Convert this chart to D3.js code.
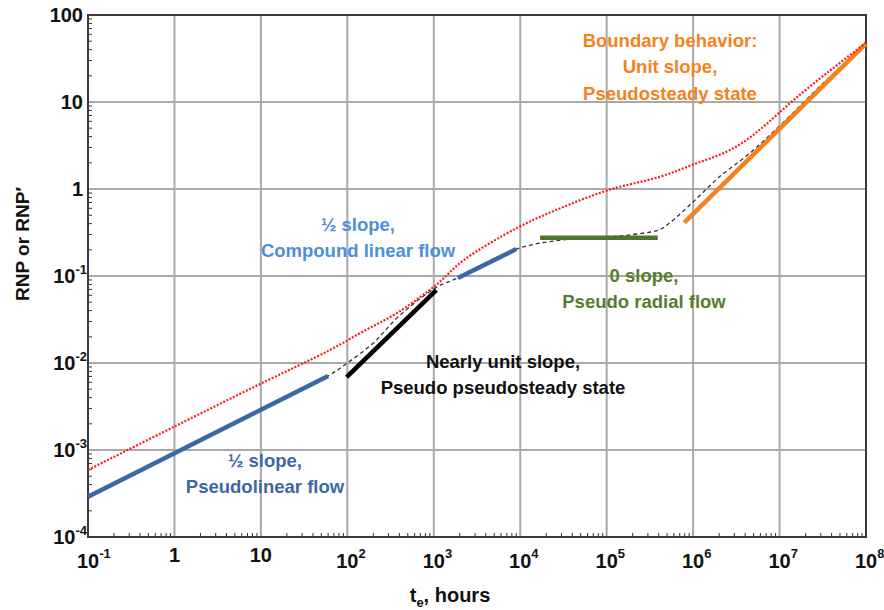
<!DOCTYPE html>
<html><head><meta charset="utf-8">
<script src="https://cdn.jsdelivr.net/npm/d3@7"></script>
<style>
body{margin:0;background:#fff}
text{font-family:"Liberation Sans",Arial,Helvetica,sans-serif;font-weight:bold}
</style></head>
<body><svg id="chart" width="884" height="610"></svg>
<script>
// ---------- data ----------
const xTickValues = [1e-1,1e0,1e1,1e2,1e3,1e4,1e5,1e6,1e7,1e8];
const xTickBase   = ["10","1","10","10","10","10","10","10","10","10"];
const xTickSup    = ["-1","","","2","3","4","5","6","7","8"];
const yTickValues = [1e-4,1e-3,1e-2,1e-1,1e0,1e1,1e2];
const yTickBase   = ["10","10","10","10","1","10","100"];
const yTickSup    = ["-4","-3","-2","-1","","",""];

// red dotted curve (RNP')
const redX = [0.1,1,10,63,150,370,1070,2200,9100,31000,107000,410000,1e6,2.45e6,4.2e6,7.1e6,1.4e7,3.5e7,1e8];
const redY = [5.9e-4,1.86e-3,5.8e-3,0.0141,0.0229,0.0372,0.0794,0.151,0.355,0.617,0.977,1.38,1.91,2.69,3.7,5.6,10.2,21.4,47.9];

// black dashed curve (RNP)
const dashX = [0.1,1,10,60,100,200,400,1070,1900,9000,31000,1e5,2.6e5,4.1e5,5.4e5,1e6,2e6,4.5e6,1e7,3e7,1e8];
const dashY = [2.9e-4,9.2e-4,2.9e-3,7.1e-3,0.0100,0.0170,0.0350,0.074,0.095,0.204,0.26,0.28,0.31,0.34,0.41,0.71,1.37,2.57,5.3,15.5,47];

// straight-line flow regime segments
const blue1X = [0.1,60],     blue1Y = [2.9e-4,7.1e-3];
const blackX = [98,1070],    blackY = [6.9e-3,0.069];
const blue2X = [1900,9000],  blue2Y = [0.095,0.204];
const greenX = [1.7e4,3.9e5],greenY = [0.275,0.275];
const orangeX= [7.9e5,1e8],  orangeY= [0.41,47];

// annotation texts
const annBoundary = ["Boundary behavior:","Unit slope,","Pseudosteady state"];
const annCompound = ["\u00BD slope,","Compound linear flow"];
const annRadial   = ["0 slope,","Pseudo radial flow"];
const annPPSS     = ["Nearly unit slope,","Pseudo pseudosteady state"];
const annLinear   = ["\u00BD slope,","Pseudolinear flow"];

// ---------- chart ----------
const svg = d3.select("#chart");
const L=88, R=866, T=15, B=537;
const x = d3.scaleLog().domain([1e-1,1e8]).range([L,R]);
const y = d3.scaleLog().domain([1e-4,1e2]).range([B,T]);

// grid
const grid = svg.append("g");
grid.selectAll("line.vx").data(xTickValues).enter().append("line")
  .attr("x1",d=>x(d)).attr("x2",d=>x(d)).attr("y1",T).attr("y2",B)
  .attr("stroke","#a9a9a9").attr("stroke-width",2);
grid.selectAll("line.hy").data(yTickValues).enter().append("line")
  .attr("y1",d=>y(d)).attr("y2",d=>y(d)).attr("x1",L).attr("x2",R)
  .attr("stroke","#a9a9a9").attr("stroke-width",2);

// minor ticks
const minorX=[], minorY=[];
for(let e=-1;e<8;e++) for(let k=2;k<10;k++) minorX.push(k*Math.pow(10,e));
for(let e=-4;e<2;e++) for(let k=2;k<10;k++) minorY.push(k*Math.pow(10,e));
svg.append("g").selectAll("line").data(minorX).enter().append("line")
  .attr("x1",d=>x(d)).attr("x2",d=>x(d)).attr("y1",B).attr("y2",B-4)
  .attr("stroke","#333").attr("stroke-width",1);
svg.append("g").selectAll("line").data(minorY).enter().append("line")
  .attr("y1",d=>y(d)).attr("y2",d=>y(d)).attr("x1",L).attr("x2",L+4)
  .attr("stroke","#333").attr("stroke-width",1);

// frame
svg.append("rect").attr("x",L).attr("y",T).attr("width",R-L).attr("height",B-T)
  .attr("fill","none").attr("stroke","#3a3a3a").attr("stroke-width",2);

// tick labels x
const xl = svg.append("g");
xTickValues.forEach((v,i)=>{
  const hasSup = xTickSup[i]!=="";
  const t = xl.append("text").attr("x",x(v)).attr("y",hasSup?568:562)
    .attr("text-anchor","middle").attr("font-size",20).attr("fill","#111").text(xTickBase[i]);
  if(hasSup){
    const w = t.node().getComputedTextLength();
    xl.append("text").attr("x",x(v)+w/2).attr("y",558)
      .attr("font-size",13).attr("fill","#111").text(xTickSup[i]);
  }
});
// tick labels y
const yl = svg.append("g");
yTickValues.forEach((v,i)=>{
  const hasSup = yTickSup[i]!=="";
  if(hasSup){
    const s = yl.append("text").attr("x",87).attr("y",y(v)-2)
      .attr("text-anchor","end").attr("font-size",13).attr("fill","#111").text(yTickSup[i]);
    const sw = s.node().getComputedTextLength();
    yl.append("text").attr("x",87-sw).attr("y",y(v)+7)
      .attr("text-anchor","end").attr("font-size",20).attr("fill","#111").text(yTickBase[i]);
  } else {
    yl.append("text").attr("x",83).attr("y",y(v)+7)
      .attr("text-anchor","end").attr("font-size",20).attr("fill","#111").text(yTickBase[i]);
  }
});

// axis titles
svg.append("text").attr("transform","translate(29,244) rotate(-90)")
  .attr("text-anchor","middle").attr("font-size",19).attr("fill","#111").text("RNP or RNP\u2032");
const xt = svg.append("text").attr("x",450).attr("y",602).attr("text-anchor","middle")
  .attr("font-size",20).attr("fill","#111");
xt.append("tspan").text("t");
xt.append("tspan").attr("font-size",13).attr("dy",5).text("e");
xt.append("tspan").attr("dy",-5).text(", hours");

// annotations
function ann(lines,cx,y0,color){
  lines.forEach((s,i)=>{
    svg.append("text").attr("x",cx).attr("y",y0+i*26.3).attr("text-anchor","middle")
      .attr("font-size",18.5).attr("fill",color).text(s);
  });
}
ann(annBoundary,670,47,"#f58120");
ann(annCompound,358,231,"#4b90dc");
ann(annRadial,644,282,"#567c2e");
ann(annPPSS,503,368,"#111");
ann(annLinear,265,467,"#3d68a6");

// curves
const line = d3.line().x(d=>x(d[0])).y(d=>y(d[1]));
const smooth = d3.line().x(d=>x(d[0])).y(d=>y(d[1])).curve(d3.curveCatmullRom.alpha(0.5));
const zip = (a,b)=>a.map((v,i)=>[v,b[i]]);

svg.append("path").attr("d",smooth(zip(dashX,dashY))).attr("fill","none")
  .attr("stroke","#333").attr("stroke-width",1.3).attr("stroke-dasharray","4,3");

function seg(xs,ys,color,w){
  svg.append("path").attr("d",line(zip(xs,ys))).attr("fill","none")
    .attr("stroke",color).attr("stroke-width",w);
}
seg(blue1X,blue1Y,"#3c66a5",4.5);
seg(blackX,blackY,"#000",4.5);
seg(blue2X,blue2Y,"#3c66a5",4.5);
seg(greenX,greenY,"#4f7429",4.5);
seg(orangeX,orangeY,"#f5821f",4.5);

svg.append("path").attr("d",smooth(zip(redX,redY))).attr("fill","none")
  .attr("stroke","#ff1a1a").attr("stroke-width",2.2).attr("stroke-dasharray","2,1.6");
</script></body></html>
